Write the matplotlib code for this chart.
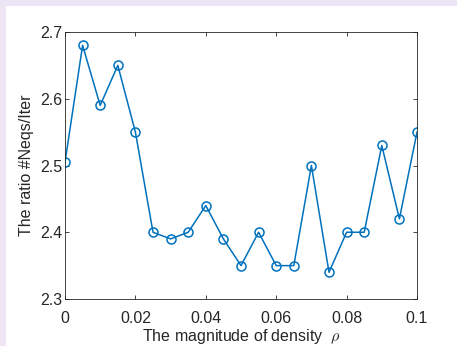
import matplotlib.pyplot as plt
from matplotlib.patches import Rectangle

plt.rcParams['font.family'] = ['Liberation Sans', 'DejaVu Sans']
plt.rcParams['mathtext.fontset'] = 'cm'

# data
rho = [0.0, 0.005, 0.01, 0.015, 0.02, 0.025, 0.03, 0.035, 0.04, 0.045, 0.05,
       0.055, 0.06, 0.065, 0.07, 0.075, 0.08, 0.085, 0.09, 0.095, 0.1]
ratio = [2.505, 2.68, 2.59, 2.65, 2.55, 2.40, 2.39, 2.40, 2.44, 2.39, 2.35,
         2.40, 2.35, 2.35, 2.50, 2.34, 2.40, 2.40, 2.53, 2.42, 2.55]
xticks = [0, 0.02, 0.04, 0.06, 0.08, 0.1]
xtick_labels = ['0', '0.02', '0.04', '0.06', '0.08', '0.1']
yticks = [2.3, 2.4, 2.5, 2.6, 2.7]
ytick_labels = ['2.3', '2.4', '2.5', '2.6', '2.7']

W, H = 457, 346
fig = plt.figure(figsize=(W / 100, H / 100), dpi=100)
fig.patch.set_facecolor('white')

# lavender page frame visible at the top and left edges
fig.patches.append(Rectangle((0, 1 - 6 / H), 1, 6 / H, transform=fig.transFigure,
                             facecolor='#ebe6f6', edgecolor='none', zorder=-5))
fig.patches.append(Rectangle((0, 0), 6 / W, 1 - 6 / H, transform=fig.transFigure,
                             facecolor='#f0e6f3', edgecolor='none', zorder=-5))

ax = fig.add_axes([65 / W, 1 - 299 / H, (417 - 65) / W, (299 - 32) / H])
ax.plot(rho, ratio, color='#0072BD', linewidth=1.1, marker='o', markersize=6.5,
        markerfacecolor='none', markeredgewidth=1.1)

ax.set_xlim(0, 0.1)
ax.set_ylim(2.3, 2.7)
ax.set_xticks(xticks)
ax.set_xticklabels(xtick_labels)
ax.set_yticks(yticks)
ax.set_yticklabels(ytick_labels)
ax.tick_params(direction='in', top=True, right=True, labelsize=11.5, length=3,
               width=0.6, colors='#262626')
ax.tick_params(axis='x', pad=8.5)
ax.tick_params(axis='y', pad=2)
for s in ax.spines.values():
    s.set_color('#262626')
    s.set_linewidth(0.6)

ax.set_xlabel(r'The magnitude of density  $\rho$', fontsize=11.5, color='#262626', labelpad=1)
ax.set_ylabel('The ratio #Neqs/Iter', fontsize=11.5, color='#262626', labelpad=4)

fig.savefig('out.png', dpi=100)
